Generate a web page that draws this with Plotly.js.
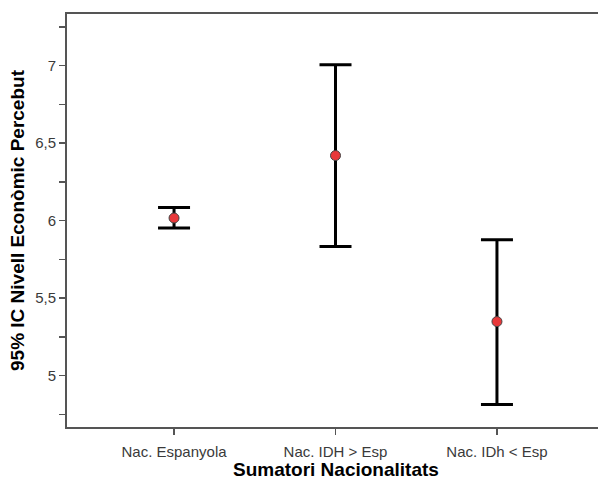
<!DOCTYPE html>
<html>
<head>
<meta charset="utf-8">
<script src="https://cdn.plot.ly/plotly-3.0.1.min.js"></script>
<style>
html,body{margin:0;padding:0;overflow:hidden;background:#fff;}
#chart{width:604px;height:480px;}
</style>
</head>
<body>
<div id="chart"></div>
<script>
const categories = ["Nac. Espanyola", "Nac. IDH > Esp", "Nac. IDh < Esp"];
const means = [6.017, 6.420, 5.349];
const upper = [6.085, 7.006, 5.877];
const lower = [5.952, 5.834, 4.814];
const xTitle = "Sumatori Nacionalitats";
const yTitle = "95% IC Nivell Econòmic Percebut";

const errPlus = means.map((m, i) => upper[i] - m);
const errMinus = means.map((m, i) => m - lower[i]);

const trace = {
  type: "scatter",
  mode: "markers",
  x: categories,
  y: means,
  marker: {size: 10, color: "#e8383a", line: {color: "#444", width: 1}},
  error_y: {
    type: "data",
    symmetric: false,
    array: errPlus,
    arrayminus: errMinus,
    color: "#000",
    thickness: 3,
    width: 16
  },
  hoverinfo: "skip"
};

const titleFont = {size: 19, color: "#000", family: "Liberation Sans, Arial, sans-serif", weight: "bold"};

const layout = {
  width: 604,
  height: 480,
  margin: {l: 67, r: 0, t: 14, b: 53},
  paper_bgcolor: "#fff",
  plot_bgcolor: "#fff",
  separators: ",.",
  showlegend: false,
  font: {family: "Liberation Sans, Arial, sans-serif", color: "#3a3a3a"},
  xaxis: {
    type: "category",
    range: [-0.663, 2.663],
    showgrid: false,
    zeroline: false,
    showline: true,
    linecolor: "#555",
    linewidth: 2,
    mirror: true,
    ticks: "outside",
    ticklen: 6,
    tickwidth: 1.5,
    tickcolor: "#555",
    ticklabelstandoff: 4,
    tickfont: {size: 15, color: "#3a3a3a"},
    automargin: false
  },
  yaxis: {
    range: [4.669, 7.333],
    dtick: 0.5,
    tick0: 5,
    showgrid: false,
    zeroline: false,
    showline: true,
    linecolor: "#555",
    linewidth: 2,
    ticks: "outside",
    ticklen: 6,
    tickwidth: 1.5,
    tickcolor: "#555",
    tickfont: {size: 15, color: "#3a3a3a"},
    minor: {dtick: 0.25, tick0: 5, ticks: "outside", ticklen: 6, tickwidth: 1.5, tickcolor: "#555", showgrid: false},
    title: {text: yTitle, font: titleFont, standoff: 5},
    automargin: false
  },
  annotations: [{
    text: xTitle,
    font: titleFont,
    xref: "paper", yref: "paper",
    x: 0.5, y: 0,
    xanchor: "center", yanchor: "middle",
    yshift: -42,
    borderpad: 0,
    showarrow: false
  }]
};

Plotly.newPlot("chart", [trace], layout, {staticPlot: true, displayModeBar: false});
</script>
</body>
</html>
